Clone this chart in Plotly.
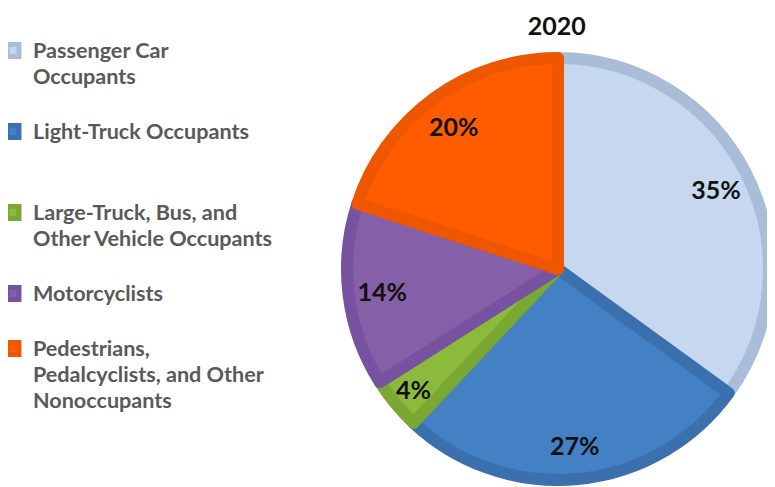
import plotly.graph_objects as go

categories = [
    "Passenger Car<br>Occupants<br> ",
    "Light-Truck Occupants<br> <br> ",
    "Large-Truck, Bus, and<br>Other Vehicle Occupants<br> ",
    "Motorcyclists<br> ",
    "Pedestrians,<br>Pedalcyclists, and Other<br>Nonoccupants",
]
values = [35, 27, 4, 14, 20]
fill_colors = ["#C5D8F0", "#4380C4", "#8CBB3C", "#8560A8", "#FF5C00"]
edge_colors = ["#A9BDD8", "#3A70AE", "#7AA832", "#7752A0", "#EE5600"]
title_text = "2020"


def legend_label(text):
    parts = text.split("<br>")
    return "<br>".join(
        '<span style="font-size:21.6px">' + p + "</span>" if p.strip() else p
        for p in parts
    )


labels = [legend_label(c) for c in categories]
pie_domain = dict(x=[0.4374, 0.9819], y=[0.0308, 0.8973])

fig = go.Figure()

# main pie (slices + legend)
fig.add_trace(
    go.Pie(
        labels=labels,
        values=values,
        sort=False,
        direction="clockwise",
        rotation=0,
        marker=dict(colors=fill_colors, line=dict(color=edge_colors, width=12)),
        textinfo="none",
        domain=pie_domain,
        hoverinfo="percent",
    )
)

# transparent ring carrying the percentage labels near the outer edge
fig.add_trace(
    go.Pie(
        labels=labels,
        values=values,
        sort=False,
        direction="clockwise",
        rotation=0,
        hole=0.68,
        marker=dict(colors=["rgba(0,0,0,0)"] * len(values), line=dict(width=0)),
        textinfo="percent",
        texttemplate="%{percent:.0%}",
        textposition="inside",
        insidetextorientation="horizontal",
        textfont=dict(family="Lato", size=25, color="#111111", weight="bold"),
        domain=pie_domain,
        showlegend=False,
        hoverinfo="skip",
    )
)

fig.update_layout(
    width=775,
    height=487,
    margin=dict(l=0, r=0, t=0, b=0, autoexpand=False),
    paper_bgcolor="white",
    plot_bgcolor="white",
    title=dict(
        text="<b>" + title_text + "</b>",
        x=0.708,
        xanchor="center",
        y=0.963,
        yanchor="middle",
        pad=dict(t=0, b=0),
        font=dict(family="Lato", size=25, color="#111111"),
    ),
    showlegend=True,
    legend=dict(
        x=-0.0194,
        xanchor="left",
        y=0.953,
        yanchor="top",
        valign="top",
        font=dict(family="Lato", size=20, color="#595959", weight="bold"),
        itemwidth=30,
        traceorder="normal",
    ),
)

fig.write_html("out.html")
